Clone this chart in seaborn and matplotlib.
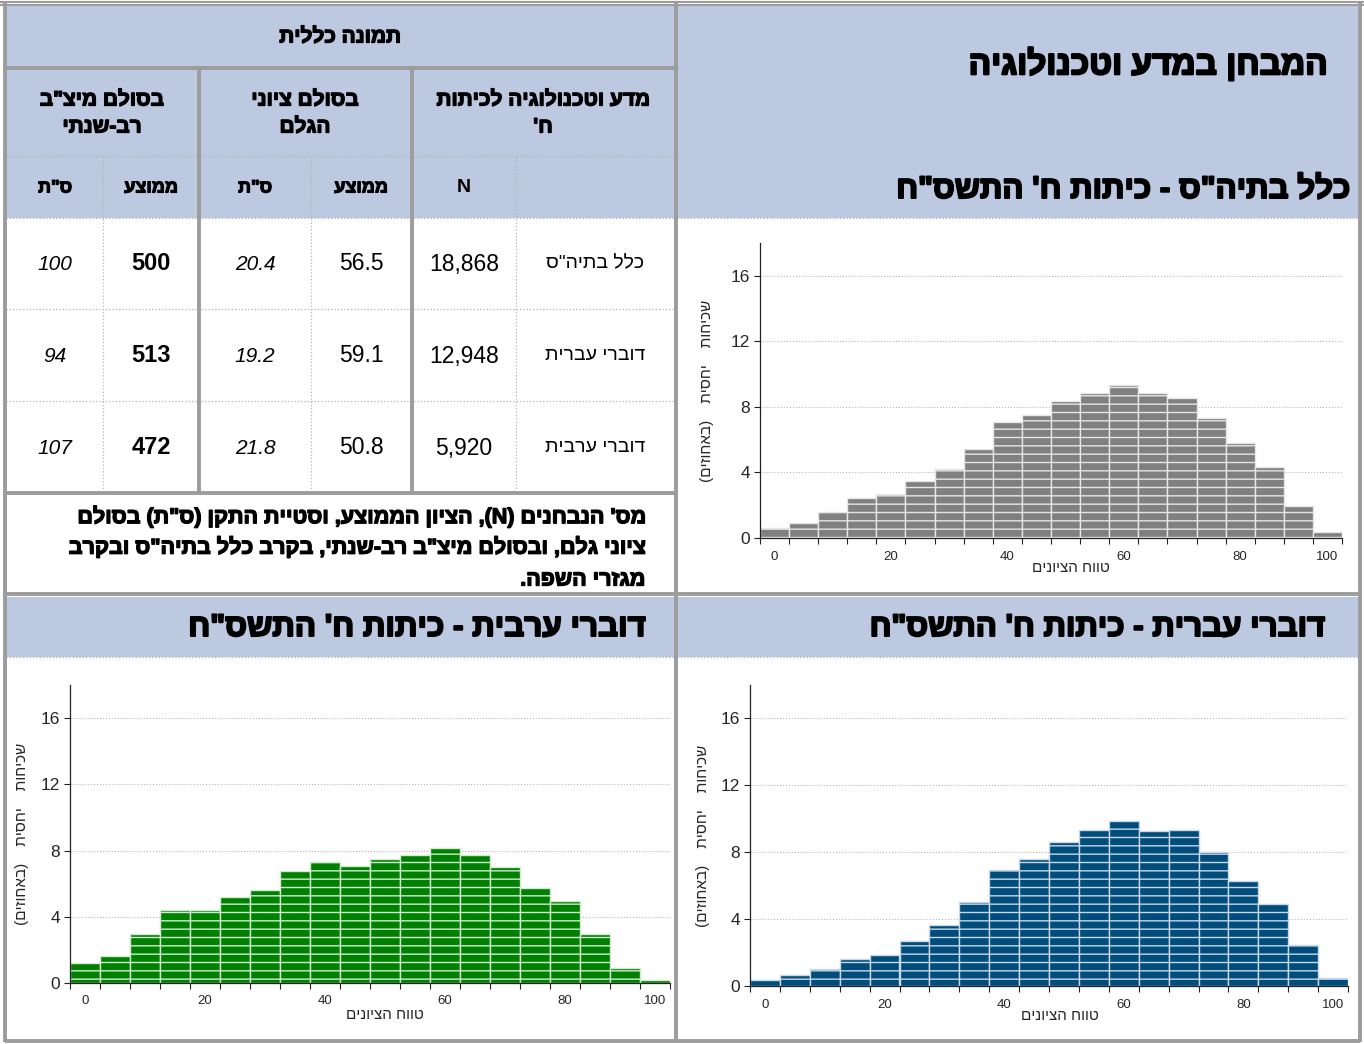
import matplotlib
matplotlib.use("Agg")
import matplotlib.pyplot as plt
import matplotlib.patheffects as pe
from matplotlib.patches import Rectangle
import pandas as pd
import seaborn as sns

# score bins (width 5) and relative frequencies in percent
score_bins = [0, 5, 10, 15, 20, 25, 30, 35, 40, 45, 50, 55, 60, 65, 70, 75, 80, 85, 90, 95]
all_pct = [0.63, 0.94, 1.59, 2.46, 2.71, 3.46, 4.24, 5.46, 7.05, 7.49,
           8.33, 8.82, 9.31, 8.82, 8.57, 7.33, 5.82, 4.32, 1.93, 0.39]
hebrew_pct = [0.36, 0.66, 1.00, 1.62, 1.86, 2.69, 3.65, 5.05, 6.95, 7.58,
              8.64, 9.32, 9.86, 9.28, 9.32, 8.04, 6.29, 4.91, 2.46, 0.50]
arabic_pct = [1.21, 1.63, 2.94, 4.43, 4.43, 5.19, 5.61, 6.76, 7.30, 7.06,
              7.46, 7.75, 8.17, 7.75, 7.00, 5.75, 4.95, 2.94, 0.91, 0.16]
x_tick_pos = [0, 4, 8, 12, 16, 19]
x_tick_labels = ['0', '20', '40', '60', '80', '100']
y_ticks = [0, 4, 8, 12, 16]

# summary table
row_names = ['כלל בתיה"ס', 'דוברי עברית', 'דוברי ערבית']
n_students = ['18,868', '12,948', '5,920']
raw_mean = ['56.5', '59.1', '50.8']
raw_sd = ['20.4', '19.2', '21.8']
meitzav_mean = ['500', '513', '472']
meitzav_sd = ['100', '94', '107']

W, H = 1364, 1044
HDR = '#bdc9e0'
GRID = '#9c9c9c'
FONT = ['Liberation Sans', 'DejaVu Sans']
NARROW = ['Liberation Sans Narrow', 'Liberation Sans', 'DejaVu Sans']

sns.set_theme(style='white')
plt.rcParams['font.family'] = FONT
plt.rcParams['hatch.linewidth'] = 1.0


def rtl(s):
    # matplotlib has no bidi, so lay hebrew out in visual order
    swap = {'(': ')', ')': '('}
    return ''.join(swap.get(c, c) for c in reversed(s))


fig = plt.figure(figsize=(W / 100, H / 100), dpi=100)
bg = fig.add_axes([0, 0, 1, 1])
bg.set_xlim(0, W)
bg.set_ylim(H, 0)
bg.axis('off')


def box(x0, y0, x1, y1, color=HDR):
    bg.add_patch(Rectangle((x0, y0), x1 - x0, y1 - y0, facecolor=color, lw=0))


def line(xs, ys, lw=2.8, color=GRID, ls='-'):
    bg.plot(xs, ys, color=color, lw=lw, ls=ls, solid_capstyle='butt')


def txt(x, y, s, size=13, bold=False, ha='center', style='normal', heb=False):
    t = bg.text(x, y, rtl(s) if heb else s, fontsize=size, ha=ha, va='center',
                style=style, fontweight='bold' if bold else 'normal', color='black')
    if bold and heb:
        # hebrew bold glyphs are missing, thicken them
        t.set_path_effects([pe.withStroke(linewidth=size / 16, foreground='black')])
    return t


# header fills
box(6, 5, 676, 218)
box(677, 5, 1359, 218)
box(6, 597, 676, 657)
box(677, 597, 1359, 657)

# dotted inner lines
for yy in [156, 218, 309, 401]:
    line([6, 676], [yy, yy], lw=0.9, color='#b4b4b4', ls=':')
line([677, 1359], [218, 218], lw=0.9, color='#b4b4b4', ls=':')
line([6, 676], [657, 657], lw=0.9, color='#b4b4b4', ls=':')
line([677, 1359], [657, 657], lw=0.9, color='#b4b4b4', ls=':')
for xx in [103, 311, 516]:
    line([xx, xx], [156, 493], lw=0.9, color='#b4b4b4', ls=':')

# panel frame
line([5, 5], [2, 1042])
line([1360, 1360], [2, 1042])
line([0, W], [1.5, 1.5], lw=1.5)
line([0, W], [5, 5], lw=1.5)
line([5, 1360], [1041, 1041])
line([676, 676], [3, 1042])
line([5, 1360], [594, 594])
line([5, 676], [68, 68])
line([5, 676], [493, 493])
line([199, 199], [68, 493])
line([412, 412], [68, 493])

# table text
txt(340, 37, 'תמונה כללית', size=15, bold=True, heb=True)
for xx, l1, l2 in [(543, 'מדע וטכנולוגיה לכיתות', "ח'"),
                   (305, 'בסולם ציוני', 'הגלם'),
                   (102, 'בסולם מיצ"ב', 'רב-שנתי')]:
    txt(xx, 100, l1, size=15, bold=True, heb=True)
    txt(xx, 127, l2, size=15, bold=True, heb=True)
txt(464, 188, 'N', size=14, bold=True)
for xx, s in zip([361, 255, 151, 55], ['ממוצע', 'ס"ת', 'ממוצע', 'ס"ת']):
    txt(xx, 188, s, size=13, bold=True, heb=True)

for i, yy in enumerate([264, 356, 448]):
    txt(595, yy, row_names[i], size=14, heb=True)
    txt(464, yy, n_students[i], size=16.5)
    txt(361, yy, raw_mean[i], size=16.5)
    txt(255, yy, raw_sd[i], size=15, style='italic')
    txt(151, yy, meitzav_mean[i], size=17, bold=True)
    txt(55, yy, meitzav_sd[i], size=15, style='italic')

notes = ['מס\' הנבחנים (N), הציון הממוצע, וסטיית התקן (ס"ת) בסולם',
         'ציוני גלם, ובסולם מיצ"ב רב-שנתי, בקרב כלל בתיה"ס ובקרב',
         'מגזרי השפה.']
for yy, s in zip([517, 548, 580], notes):
    txt(645, yy, s, size=15.5, bold=True, ha='right', heb=True)

# titles
txt(1328, 65, 'המבחן במדע וטכנולוגיה', size=24, bold=True, ha='right', heb=True)
txt(1350, 190, 'כלל בתיה"ס - כיתות ח\' התשס"ח', size=22.5, bold=True, ha='right', heb=True)
txt(645, 628, 'דוברי ערבית - כיתות ח\' התשס"ח', size=22.6, bold=True, ha='right', heb=True)
txt(1325, 628, 'דוברי עברית - כיתות ח\' התשס"ח', size=22.5, bold=True, ha='right', heb=True)


def draw_hist(rect, values, color, hatch_color, ylab_x, xlab_xy):
    x0, y0, x1, y1 = rect
    ax = fig.add_axes([x0 / W, 1 - y1 / H, (x1 - x0) / W, (y1 - y0) / H])
    df = pd.DataFrame({'bin': score_bins, 'pct': values})
    sns.barplot(data=df, x='bin', y='pct', color=color, saturation=1, width=1,
                errorbar=None, edgecolor=hatch_color, linewidth=1, ax=ax)
    for p in ax.patches:
        p.set_hatch('--')
    ax.set_facecolor('none')
    ax.set_xlim(-0.5, len(score_bins) - 0.5)
    ax.set_ylim(0, 18)
    ax.set_yticks(y_ticks)
    ax.set_yticklabels([str(v) for v in y_ticks], fontsize=12.5, family=NARROW)
    ax.yaxis.grid(True, color='#b8b8b8', lw=0.8, ls=':')
    ax.set_axisbelow(True)
    ax.set_xticks([b - 0.5 for b in range(len(score_bins) + 1)])
    ax.set_xticklabels([])
    ax.set_xticks(x_tick_pos, minor=True)
    ax.set_xticklabels(x_tick_labels, minor=True, fontsize=9.5, family=NARROW)
    ax.tick_params(axis='x', which='major', direction='out', length=4, width=0.8,
                   color='#222222', bottom=True)
    ax.tick_params(axis='x', which='minor', length=0, pad=9, bottom=True)
    ax.tick_params(axis='y', direction='out', length=4, width=0.8, color='#222222',
                   left=True, pad=3)
    for side in ['top', 'right']:
        ax.spines[side].set_visible(False)
    for side in ['left', 'bottom']:
        ax.spines[side].set_color('#222222')
        ax.spines[side].set_linewidth(0.9)
    ax.set_ylabel(rtl('שכיחות    יחסית    (באחוזים)'), fontsize=11)
    ax.yaxis.set_label_coords(ylab_x, 0.5)
    ax.set_xlabel(rtl('טווח הציונים'), fontsize=11)
    ax.xaxis.set_label_coords(*xlab_xy)
    return ax


draw_hist((760, 243, 1342, 538), all_pct, '#808080', '#e6e6e6', -0.079, (0.534, -0.078))
draw_hist((70, 685, 670, 983), arabic_pct, '#008000', '#d2ecd2', -0.068, (0.525, -0.084))
draw_hist((750, 685, 1348, 986), hebrew_pct, '#004d7c', '#c8d8e8', -0.067, (0.518, -0.076))

fig.savefig('out.png', dpi=100)
